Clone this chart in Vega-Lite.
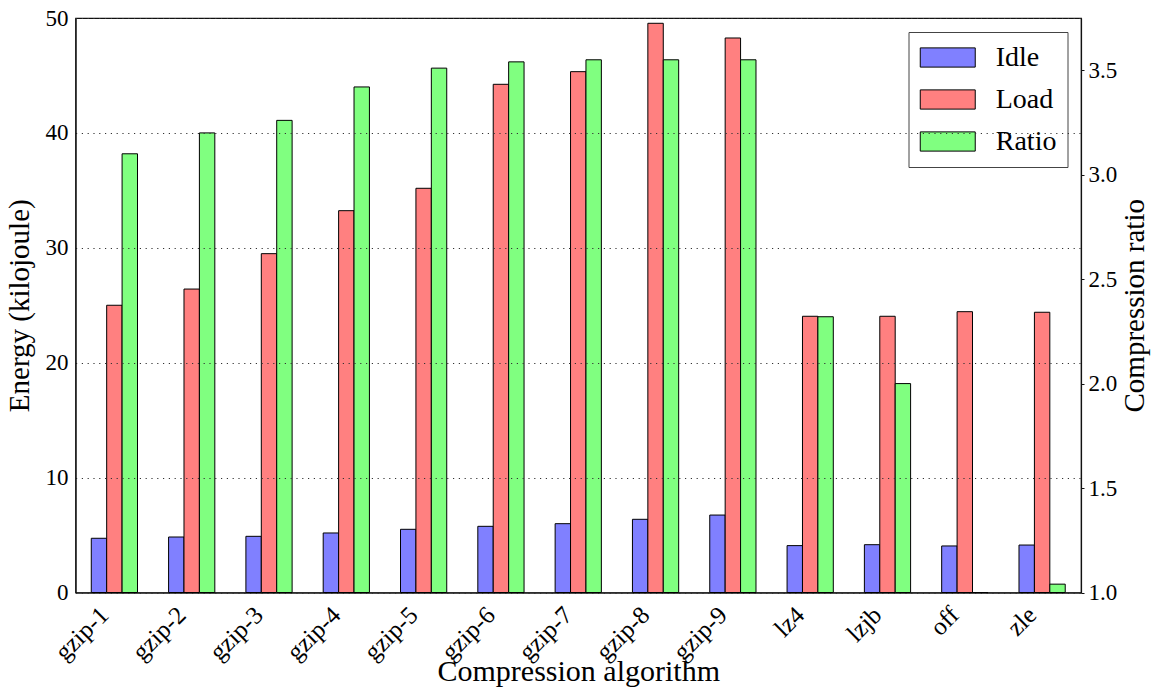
{
  "$schema": "https://vega.github.io/schema/vega-lite/v6.json",
  "width": 1005.5,
  "height": 574.5,
  "autosize": {"type": "none"},
  "padding": {"left": 75.5, "top": 18, "right": 72, "bottom": 98.5},
  "background": "white",
  "config": {
    "font": "Liberation Serif",
    "view": {"stroke": "#111", "strokeWidth": 1.2},
    "axis": {
      "labelFont": "Liberation Serif",
      "titleFont": "Liberation Serif",
      "labelColor": "#000",
      "titleColor": "#000",
      "titleFontWeight": "normal",
      "labelFontSize": 23,
      "titleFontSize": 29,
      "domainColor": "#111",
      "domainWidth": 1.2,
      "tickColor": "#111"
    }
  },
  "datasets": {
    "energy": [
      {"algo": "gzip-1", "series": "Idle", "value": 4.72},
      {"algo": "gzip-2", "series": "Idle", "value": 4.83},
      {"algo": "gzip-3", "series": "Idle", "value": 4.89},
      {"algo": "gzip-4", "series": "Idle", "value": 5.18},
      {"algo": "gzip-5", "series": "Idle", "value": 5.50},
      {"algo": "gzip-6", "series": "Idle", "value": 5.76},
      {"algo": "gzip-7", "series": "Idle", "value": 5.99},
      {"algo": "gzip-8", "series": "Idle", "value": 6.37},
      {"algo": "gzip-9", "series": "Idle", "value": 6.74},
      {"algo": "lz4", "series": "Idle", "value": 4.08},
      {"algo": "lzjb", "series": "Idle", "value": 4.16},
      {"algo": "off", "series": "Idle", "value": 4.05},
      {"algo": "zle", "series": "Idle", "value": 4.13},
      {"algo": "gzip-1", "series": "Load", "value": 25.0},
      {"algo": "gzip-2", "series": "Load", "value": 26.41},
      {"algo": "gzip-3", "series": "Load", "value": 29.49},
      {"algo": "gzip-4", "series": "Load", "value": 33.23},
      {"algo": "gzip-5", "series": "Load", "value": 35.18},
      {"algo": "gzip-6", "series": "Load", "value": 44.23},
      {"algo": "gzip-7", "series": "Load", "value": 45.33},
      {"algo": "gzip-8", "series": "Load", "value": 49.54},
      {"algo": "gzip-9", "series": "Load", "value": 48.26},
      {"algo": "lz4", "series": "Load", "value": 24.04},
      {"algo": "lzjb", "series": "Load", "value": 24.04},
      {"algo": "off", "series": "Load", "value": 24.44},
      {"algo": "zle", "series": "Load", "value": 24.39}
    ],
    "ratio": [
      {"algo": "gzip-1", "series": "Ratio", "value": 3.10},
      {"algo": "gzip-2", "series": "Ratio", "value": 3.20},
      {"algo": "gzip-3", "series": "Ratio", "value": 3.26},
      {"algo": "gzip-4", "series": "Ratio", "value": 3.42},
      {"algo": "gzip-5", "series": "Ratio", "value": 3.51},
      {"algo": "gzip-6", "series": "Ratio", "value": 3.54},
      {"algo": "gzip-7", "series": "Ratio", "value": 3.55},
      {"algo": "gzip-8", "series": "Ratio", "value": 3.55},
      {"algo": "gzip-9", "series": "Ratio", "value": 3.55},
      {"algo": "lz4", "series": "Ratio", "value": 2.32},
      {"algo": "lzjb", "series": "Ratio", "value": 2.00},
      {"algo": "off", "series": "Ratio", "value": 1.00},
      {"algo": "zle", "series": "Ratio", "value": 1.04}
    ]
  },
  "layer": [
    {
      "data": {"name": "energy"},
      "mark": {"type": "bar", "stroke": "#000", "strokeWidth": 1},
      "encoding": {
        "x": {
          "field": "algo", "type": "nominal",
          "sort": ["gzip-1","gzip-2","gzip-3","gzip-4","gzip-5","gzip-6","gzip-7","gzip-8","gzip-9","lz4","lzjb","off","zle"],
          "scale": {"paddingInner": 0.402, "paddingOuter": 0.204},
          "axis": {"title": "Compression algorithm", "titleFontSize": 30, "labelAngle": 315, "labelAlign": "right", "labelBaseline": "middle", "labelPadding": 18, "labelOffset": -10, "labelFontSize": 25, "ticks": false, "titlePadding": -8}
        },
        "xOffset": {
          "field": "series", "type": "nominal",
          "scale": {"domain": ["Idle", "Load", "Ratio"], "paddingInner": 0, "paddingOuter": 0}
        },
        "y": {
          "field": "value", "type": "quantitative",
          "scale": {"domain": [0, 50], "nice": false},
          "axis": {"orient": "left", "title": "Energy (kilojoule)", "values": [0, 10, 20, 30, 40, 50], "grid": true, "gridColor": "#333", "gridDash": [1.2, 4.6], "gridWidth": 1, "ticks": false, "labelPadding": 7.5, "titlePadding": 11, "zindex": 1}
        },
        "color": {
          "field": "series", "type": "nominal",
          "scale": {"domain": ["Idle", "Load", "Ratio"], "range": ["#8080ff", "#ff8080", "#80ff80"]},
          "legend": {"title": null, "orient": "top-right", "offset": 14, "strokeColor": "#444", "fillColor": "white", "padding": 11, "symbolType": "M-2,-0.7H2V0.7H-2Z", "symbolSize": 756, "symbolOffset": 13.75, "symbolStrokeColor": "#000", "symbolStrokeWidth": 1, "symbolOpacity": 1, "labelFont": "Liberation Serif", "labelFontSize": 28, "labelColor": "#000", "labelOffset": 33.5, "rowPadding": 13}
        }
      }
    },
    {
      "data": {"name": "ratio"},
      "mark": {"type": "bar", "stroke": "#000", "strokeWidth": 1},
      "encoding": {
        "x": {
          "field": "algo", "type": "nominal",
          "sort": ["gzip-1","gzip-2","gzip-3","gzip-4","gzip-5","gzip-6","gzip-7","gzip-8","gzip-9","lz4","lzjb","off","zle"],
          "scale": {"paddingInner": 0.402, "paddingOuter": 0.204},
          "axis": {"title": "Compression algorithm", "titleFontSize": 30, "labelAngle": 315, "labelAlign": "right", "labelBaseline": "middle", "labelPadding": 18, "labelOffset": -10, "labelFontSize": 25, "ticks": false, "titlePadding": -8}
        },
        "xOffset": {
          "field": "series", "type": "nominal",
          "scale": {"domain": ["Idle", "Load", "Ratio"], "paddingInner": 0, "paddingOuter": 0}
        },
        "y": {
          "field": "value", "type": "quantitative",
          "scale": {"domain": [1, 3.75], "nice": false, "zero": false},
          "axis": {"orient": "right", "title": "Compression ratio", "values": [1, 1.5, 2, 2.5, 3, 3.5], "format": ".1f", "grid": false, "ticks": true, "tickSize": 3, "labelPadding": 4, "titleAngle": 270, "titleBaseline": "top", "titlePadding": 4}
        },
        "y2": {"datum": 1},
        "color": {
          "field": "series", "type": "nominal",
          "scale": {"domain": ["Idle", "Load", "Ratio"], "range": ["#8080ff", "#ff8080", "#80ff80"]}
        }
      }
    }
  ],
  "resolve": {"scale": {"y": "independent"}}
}
